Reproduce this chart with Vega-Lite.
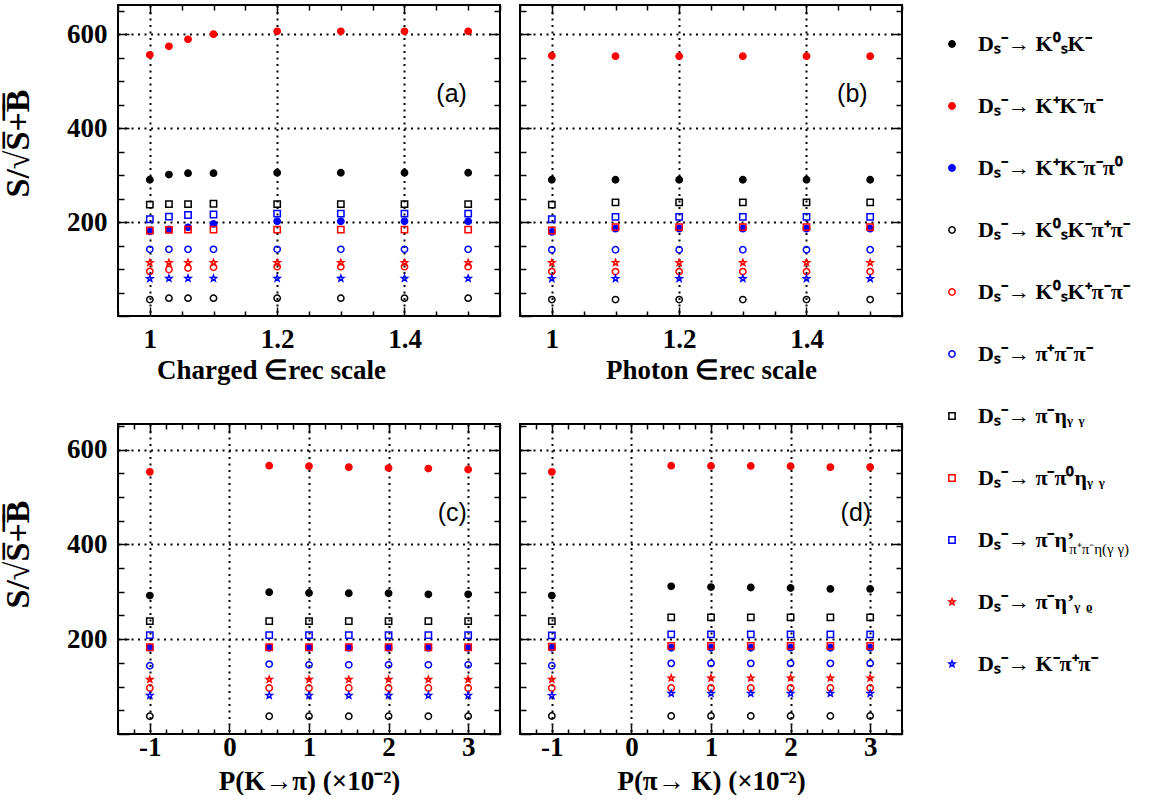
{
  "$schema": "https://vega.github.io/schema/vega-lite/v6.json",
  "padding": {"left": 0, "top": 3, "right": 0, "bottom": 0},
  "background": "white",
  "columns": 2,
  "spacing": {"row": 108, "column": 20},
  "bounds": "flush",
  "data": {"values": [
    {"p":"a","x":1,"s1":290,"s2":556,"s3":180,"s4":35,"s5":95,"s6":142,"s7":237,"s8":182,"s9":206,"s10":113.5,"s11":79.5},
    {"p":"a","x":1.03,"s1":301,"s2":574,"s3":184.5,"s4":38,"s5":99,"s6":142,"s7":238,"s8":183.5,"s9":211.5,"s10":113.5,"s11":80},
    {"p":"a","x":1.06,"s1":304,"s2":589,"s3":188.7,"s4":38,"s5":102,"s6":142,"s7":238,"s8":184,"s9":215,"s10":113.5,"s11":80},
    {"p":"a","x":1.1,"s1":304,"s2":600,"s3":196,"s4":38,"s5":103.6,"s6":142,"s7":239,"s8":184,"s9":216,"s10":113.5,"s11":80},
    {"p":"a","x":1.2,"s1":305,"s2":606,"s3":201.5,"s4":38,"s5":105,"s6":142,"s7":238,"s8":184,"s9":218,"s10":113.5,"s11":80},
    {"p":"a","x":1.3,"s1":305,"s2":606,"s3":201.5,"s4":38,"s5":105,"s6":142,"s7":238,"s8":184,"s9":218,"s10":113.5,"s11":80},
    {"p":"a","x":1.4,"s1":305,"s2":606,"s3":201.5,"s4":38,"s5":105,"s6":142,"s7":238,"s8":184,"s9":218,"s10":113.5,"s11":80},
    {"p":"a","x":1.5,"s1":305,"s2":606,"s3":201.5,"s4":38,"s5":105,"s6":142,"s7":238,"s8":184,"s9":218,"s10":113.5,"s11":80},
    {"p":"b","x":1,"s1":290,"s2":554,"s3":179,"s4":35,"s5":94.5,"s6":141,"s7":237,"s8":182,"s9":206,"s10":113.5,"s11":79.5},
    {"p":"b","x":1.1,"s1":290,"s2":553,"s3":186,"s4":35,"s5":94.5,"s6":141,"s7":242,"s8":189,"s9":211,"s10":113.5,"s11":79.5},
    {"p":"b","x":1.2,"s1":290,"s2":553,"s3":186,"s4":35,"s5":94.5,"s6":141,"s7":242,"s8":189,"s9":211,"s10":113.5,"s11":79.5},
    {"p":"b","x":1.3,"s1":290,"s2":553,"s3":186,"s4":35,"s5":94.5,"s6":141,"s7":242,"s8":189,"s9":211,"s10":113.5,"s11":79.5},
    {"p":"b","x":1.4,"s1":290,"s2":553,"s3":186,"s4":35,"s5":94.5,"s6":141,"s7":242,"s8":189,"s9":211,"s10":113.5,"s11":79.5},
    {"p":"b","x":1.5,"s1":290,"s2":553,"s3":186,"s4":35,"s5":94.5,"s6":141,"s7":242,"s8":189,"s9":211,"s10":113.5,"s11":79.5},
    {"p":"c","x":-1,"s1":292,"s2":553,"s3":182,"s4":37.5,"s5":97,"s6":144,"s7":238,"s8":183,"s9":208.5,"s10":115,"s11":81.3},
    {"p":"c","x":0.5,"s1":299,"s2":566,"s3":182,"s4":37.5,"s5":97,"s6":147.5,"s7":238,"s8":183,"s9":208.5,"s10":115,"s11":81.3},
    {"p":"c","x":1,"s1":297.5,"s2":565,"s3":182,"s4":37.5,"s5":97,"s6":146,"s7":238,"s8":183,"s9":208.5,"s10":115,"s11":81.3},
    {"p":"c","x":1.5,"s1":297,"s2":563,"s3":182,"s4":37.5,"s5":97,"s6":146,"s7":238,"s8":183,"s9":208.5,"s10":115,"s11":81.3},
    {"p":"c","x":2,"s1":297,"s2":561,"s3":182,"s4":37.5,"s5":97,"s6":146,"s7":238,"s8":183,"s9":208.5,"s10":115,"s11":81.3},
    {"p":"c","x":2.5,"s1":294.6,"s2":560,"s3":182,"s4":37.5,"s5":97,"s6":146,"s7":238,"s8":183,"s9":208.5,"s10":115,"s11":81.3},
    {"p":"c","x":3,"s1":294.6,"s2":558,"s3":182,"s4":37.5,"s5":97,"s6":146,"s7":238,"s8":183,"s9":208.5,"s10":115,"s11":81.3},
    {"p":"d","x":-1,"s1":292,"s2":553,"s3":182,"s4":38,"s5":97,"s6":144,"s7":238,"s8":184,"s9":208,"s10":115,"s11":81},
    {"p":"d","x":0.5,"s1":311.5,"s2":566,"s3":182,"s4":38,"s5":97,"s6":149,"s7":246,"s8":186,"s9":210,"s10":118,"s11":85.5},
    {"p":"d","x":1,"s1":310,"s2":565.5,"s3":182,"s4":38,"s5":97,"s6":149,"s7":246,"s8":186,"s9":210,"s10":118,"s11":85.5},
    {"p":"d","x":1.5,"s1":309,"s2":565.5,"s3":182,"s4":38,"s5":97,"s6":149,"s7":246,"s8":186,"s9":210,"s10":118,"s11":85.5},
    {"p":"d","x":2,"s1":308,"s2":565,"s3":182,"s4":38,"s5":97,"s6":149,"s7":246,"s8":186,"s9":210,"s10":118,"s11":85.5},
    {"p":"d","x":2.5,"s1":306,"s2":563,"s3":182,"s4":38,"s5":97,"s6":149,"s7":246,"s8":186,"s9":210,"s10":118,"s11":85.5},
    {"p":"d","x":3,"s1":306,"s2":563,"s3":182,"s4":38,"s5":97,"s6":149,"s7":246,"s8":186,"s9":210,"s10":118,"s11":85.5}
  ]},
  "concat": [
    {
      "width": 382, "height": 311,
      "layer": [
        {
          "transform": [{"filter": "datum.p === 'a'"}, {"fold": ["s1","s2","s3","s4","s5","s6","s7","s8","s9","s10","s11"], "as": ["series","v"]}],
          "mark": {"type": "point", "filled": true, "opacity": 1, "strokeWidth": 1.5},
          "encoding": {
            "x": {"field": "x", "type": "quantitative", "scale": {"domain": [0.95, 1.55], "nice": false, "zero": false},
              "axis": {"orient": "bottom", "values": [0.95,1,1.05,1.1,1.15,1.2,1.25,1.3,1.35,1.4,1.45,1.5,1.55], "title": "Charged  ∈rec scale", "titleX": 153, "titlePadding": 5,
                "labelExpr": "indexof([1,1.2,1.4], datum.value) >= 0 ? toString(datum.value) : ''",
                "labelFontSize": {"condition": {"test": "indexof([1,1.2,1.4], datum.value) >= 0", "value": 27}, "value": 0},
                "grid": true, "gridOpacity": {"condition": {"test": "indexof([1,1.2,1.4], datum.value) >= 0", "value": 1}, "value": 0},
                "tickSize": {"condition": {"test": "indexof([1,1.2,1.4], datum.value) >= 0", "value": -9}, "value": -5}, "labelPadding": 19}},
            "y": {"field": "v", "type": "quantitative", "scale": {"domain": [0, 662], "nice": false},
              "axis": {"orient": "left", "values": [0,50,100,150,200,250,300,350,400,450,500,550,600,650], "title": "S/√S̅+̅B̅", "titleFontSize": 34, "titlePadding": 31, "titleY": 138,
                "labelExpr": "indexof([200,400,600], datum.value) >= 0 ? toString(datum.value) : ''",
                "labelFontSize": {"condition": {"test": "indexof([200,400,600], datum.value) >= 0", "value": 27}, "value": 0},
                "grid": true, "gridOpacity": {"condition": {"test": "indexof([200,400,600], datum.value) >= 0", "value": 1}, "value": 0},
                "tickSize": {"condition": {"test": "datum.value % 200 === 0", "value": -11}, "value": -6}, "labelPadding": 22}},
            "shape": {"field": "series", "type": "nominal", "scale": {"domain": ["s1","s2","s3","s4","s5","s6","s7","s8","s9","s10","s11"], "range": ["circle","circle","circle","circle","circle","circle","square","square","square","M0,-1L0.247,-0.34L0.951,-0.309L0.4,0.13L0.588,0.809L0,0.42L-0.588,0.809L-0.4,0.13L-0.951,-0.309L-0.247,-0.34Z","M0,-1L0.247,-0.34L0.951,-0.309L0.4,0.13L0.588,0.809L0,0.42L-0.588,0.809L-0.4,0.13L-0.951,-0.309L-0.247,-0.34Z"]},
              "legend": {"title": null, "orient": "none", "legendX": 823, "legendY": 28, "padding": 0, "labelFont": "Liberation Serif", "labelFontSize": 22, "labelFontWeight": "bold", "labelColor": "black", "labelLimit": 0, "rowPadding": 40, "symbolStrokeWidth": 1.5, "labelOffset": 15,
                "labelExpr": "['Dₛ⁻→ K⁰ₛK⁻','Dₛ⁻→ K⁺K⁻π⁻','Dₛ⁻→ K⁺K⁻π⁻π⁰','Dₛ⁻→ K⁰ₛK⁻π⁺π⁻','Dₛ⁻→ K⁰ₛK⁺π⁻π⁻','Dₛ⁻→  π⁺π⁻π⁻','Dₛ⁻→  π⁻ηᵧ ᵧ','Dₛ⁻→  π⁻π⁰ηᵧ ᵧ','Dₛ⁻→  π⁻η’','Dₛ⁻→  π⁻η’ᵧ ᵨ','Dₛ⁻→ K⁻π⁺π⁻'][indexof(['s1','s2','s3','s4','s5','s6','s7','s8','s9','s10','s11'], datum.label)]"}},
            "stroke": {"field": "series", "type": "nominal", "scale": {"domain": ["s1","s2","s3","s4","s5","s6","s7","s8","s9","s10","s11"], "range": ["#000000","#ff0000","#0000ff","#000000","#ff0000","#0000ff","#000000","#ff0000","#0000ff","#ff0000","#0000ff"]},
              "legend": {"title": null, "orient": "none", "legendX": 823, "legendY": 28}},
            "fill": {"field": "series", "type": "nominal", "scale": {"domain": ["s1","s2","s3","s4","s5","s6","s7","s8","s9","s10","s11"], "range": ["#000000","#ff0000","#0000ff","transparent","transparent","transparent","transparent","transparent","transparent","transparent","transparent"]},
              "legend": {"title": null, "orient": "none", "legendX": 823, "legendY": 28}},
            "size": {"field": "series", "type": "nominal", "scale": {"domain": ["s1","s2","s3","s4","s5","s6","s7","s8","s9","s10","s11"], "range": [40,40,40,45,45,45,52,52,52,115,115]},
              "legend": {"title": null, "orient": "none", "legendX": 823, "legendY": 28}}
          }
        },
        {
          "data": {"values": [{}]},
          "mark": {"type": "text", "text": "(a)", "font": "Liberation Sans", "fontSize": 25, "align": "center", "baseline": "middle", "color": "black"},
          "encoding": {
            "x": {"datum": 1.474, "type": "quantitative", "scale": {"domain": [0.95, 1.55], "nice": false, "zero": false},
              "axis": {"orient": "top", "values": [0.95,1,1.05,1.1,1.15,1.2,1.25,1.3,1.35,1.4,1.45,1.5,1.55], "labels": false, "title": null, "grid": false,
                "tickSize": {"condition": {"test": "indexof([1,1.2,1.4], datum.value) >= 0", "value": -9}, "value": -5}}},
            "y": {"datum": 473, "type": "quantitative", "scale": {"domain": [0, 662], "nice": false},
              "axis": {"orient": "right", "values": [0,50,100,150,200,250,300,350,400,450,500,550,600,650], "labels": false, "title": null, "grid": false,
                "tickSize": {"condition": {"test": "datum.value % 200 === 0", "value": -11}, "value": -6}}}
          }
        }
      ]
    },
    {
      "width": 382, "height": 311,
      "layer": [
        {
          "transform": [{"filter": "datum.p === 'b'"}, {"fold": ["s1","s2","s3","s4","s5","s6","s7","s8","s9","s10","s11"], "as": ["series","v"]}],
          "mark": {"type": "point", "filled": true, "opacity": 1, "strokeWidth": 1.5},
          "encoding": {
            "x": {"field": "x", "type": "quantitative", "scale": {"domain": [0.95, 1.55], "nice": false, "zero": false},
              "axis": {"orient": "bottom", "values": [0.95,1,1.05,1.1,1.15,1.2,1.25,1.3,1.35,1.4,1.45,1.5,1.55], "title": "Photon  ∈rec scale", "titlePadding": 5,
                "labelExpr": "indexof([1,1.2,1.4], datum.value) >= 0 ? toString(datum.value) : ''",
                "labelFontSize": {"condition": {"test": "indexof([1,1.2,1.4], datum.value) >= 0", "value": 27}, "value": 0},
                "grid": true, "gridOpacity": {"condition": {"test": "indexof([1,1.2,1.4], datum.value) >= 0", "value": 1}, "value": 0},
                "tickSize": {"condition": {"test": "indexof([1,1.2,1.4], datum.value) >= 0", "value": -9}, "value": -5}, "labelPadding": 19}},
            "y": {"field": "v", "type": "quantitative", "scale": {"domain": [0, 662], "nice": false},
              "axis": {"orient": "left", "values": [0,50,100,150,200,250,300,350,400,450,500,550,600,650], "title": null, "labels": false,
                "grid": true, "gridOpacity": {"condition": {"test": "indexof([200,400,600], datum.value) >= 0", "value": 1}, "value": 0},
                "tickSize": {"condition": {"test": "datum.value % 200 === 0", "value": -11}, "value": -6}}},
            "shape": {"field": "series", "type": "nominal", "scale": {"domain": ["s1","s2","s3","s4","s5","s6","s7","s8","s9","s10","s11"], "range": ["circle","circle","circle","circle","circle","circle","square","square","square","M0,-1L0.247,-0.34L0.951,-0.309L0.4,0.13L0.588,0.809L0,0.42L-0.588,0.809L-0.4,0.13L-0.951,-0.309L-0.247,-0.34Z","M0,-1L0.247,-0.34L0.951,-0.309L0.4,0.13L0.588,0.809L0,0.42L-0.588,0.809L-0.4,0.13L-0.951,-0.309L-0.247,-0.34Z"]}, "legend": null},
            "stroke": {"field": "series", "type": "nominal", "scale": {"domain": ["s1","s2","s3","s4","s5","s6","s7","s8","s9","s10","s11"], "range": ["#000000","#ff0000","#0000ff","#000000","#ff0000","#0000ff","#000000","#ff0000","#0000ff","#ff0000","#0000ff"]}, "legend": null},
            "fill": {"field": "series", "type": "nominal", "scale": {"domain": ["s1","s2","s3","s4","s5","s6","s7","s8","s9","s10","s11"], "range": ["#000000","#ff0000","#0000ff","transparent","transparent","transparent","transparent","transparent","transparent","transparent","transparent"]}, "legend": null},
            "size": {"field": "series", "type": "nominal", "scale": {"domain": ["s1","s2","s3","s4","s5","s6","s7","s8","s9","s10","s11"], "range": [40,40,40,45,45,45,52,52,52,115,115]}, "legend": null}
          }
        },
        {
          "data": {"values": [{}]},
          "mark": {"type": "text", "text": "(b)", "font": "Liberation Sans", "fontSize": 25, "align": "center", "baseline": "middle", "color": "black"},
          "encoding": {
            "x": {"datum": 1.472, "type": "quantitative", "scale": {"domain": [0.95, 1.55], "nice": false, "zero": false},
              "axis": {"orient": "top", "values": [0.95,1,1.05,1.1,1.15,1.2,1.25,1.3,1.35,1.4,1.45,1.5,1.55], "labels": false, "title": null, "grid": false,
                "tickSize": {"condition": {"test": "indexof([1,1.2,1.4], datum.value) >= 0", "value": -9}, "value": -5}}},
            "y": {"datum": 473, "type": "quantitative", "scale": {"domain": [0, 662], "nice": false},
              "axis": {"orient": "right", "values": [0,50,100,150,200,250,300,350,400,450,500,550,600,650], "labels": false, "title": null, "grid": false,
                "tickSize": {"condition": {"test": "datum.value % 200 === 0", "value": -11}, "value": -6}}}
          }
        }
      ]
    },
    {
      "width": 382, "height": 310,
      "layer": [
        {
          "transform": [{"filter": "datum.p === 'c'"}, {"fold": ["s1","s2","s3","s4","s5","s6","s7","s8","s9","s10","s11"], "as": ["series","v"]}],
          "mark": {"type": "point", "filled": true, "opacity": 1, "strokeWidth": 1.5},
          "encoding": {
            "x": {"field": "x", "type": "quantitative", "scale": {"domain": [-1.4, 3.4], "nice": false, "zero": false},
              "axis": {"orient": "bottom", "values": [-1.4,-1.2,-1,-0.8,-0.6,-0.4,-0.2,0,0.2,0.4,0.6,0.8,1,1.2,1.4,1.6,1.8,2,2.2,2.4,2.6,2.8,3,3.2,3.4], "title": "P(K→π) (×10⁻²)", "titlePadding": 8,
                "labelExpr": "indexof([-1,0,1,2,3], datum.value) >= 0 ? toString(datum.value) : ''",
                "labelFontSize": {"condition": {"test": "indexof([-1,0,1,2,3], datum.value) >= 0", "value": 27}, "value": 0},
                "grid": true, "gridOpacity": {"condition": {"test": "indexof([-1,0,1,2,3], datum.value) >= 0", "value": 1}, "value": 0},
                "tickSize": {"condition": {"test": "indexof([-1,0,1,2,3], datum.value) >= 0", "value": -9}, "value": -5}, "labelPadding": 9}},
            "y": {"field": "v", "type": "quantitative", "scale": {"domain": [0, 654], "nice": false},
              "axis": {"orient": "left", "values": [0,50,100,150,200,250,300,350,400,450,500,550,600,650], "title": "S/√S̅+̅B̅", "titleFontSize": 34, "titlePadding": 31, "titleY": 130,
                "labelExpr": "indexof([200,400,600], datum.value) >= 0 ? toString(datum.value) : ''",
                "labelFontSize": {"condition": {"test": "indexof([200,400,600], datum.value) >= 0", "value": 27}, "value": 0},
                "grid": true, "gridOpacity": {"condition": {"test": "indexof([200,400,600], datum.value) >= 0", "value": 1}, "value": 0},
                "tickSize": {"condition": {"test": "datum.value % 200 === 0", "value": -11}, "value": -6}, "labelPadding": 22}},
            "shape": {"field": "series", "type": "nominal", "scale": {"domain": ["s1","s2","s3","s4","s5","s6","s7","s8","s9","s10","s11"], "range": ["circle","circle","circle","circle","circle","circle","square","square","square","M0,-1L0.247,-0.34L0.951,-0.309L0.4,0.13L0.588,0.809L0,0.42L-0.588,0.809L-0.4,0.13L-0.951,-0.309L-0.247,-0.34Z","M0,-1L0.247,-0.34L0.951,-0.309L0.4,0.13L0.588,0.809L0,0.42L-0.588,0.809L-0.4,0.13L-0.951,-0.309L-0.247,-0.34Z"]}, "legend": null},
            "stroke": {"field": "series", "type": "nominal", "scale": {"domain": ["s1","s2","s3","s4","s5","s6","s7","s8","s9","s10","s11"], "range": ["#000000","#ff0000","#0000ff","#000000","#ff0000","#0000ff","#000000","#ff0000","#0000ff","#ff0000","#0000ff"]}, "legend": null},
            "fill": {"field": "series", "type": "nominal", "scale": {"domain": ["s1","s2","s3","s4","s5","s6","s7","s8","s9","s10","s11"], "range": ["#000000","#ff0000","#0000ff","transparent","transparent","transparent","transparent","transparent","transparent","transparent","transparent"]}, "legend": null},
            "size": {"field": "series", "type": "nominal", "scale": {"domain": ["s1","s2","s3","s4","s5","s6","s7","s8","s9","s10","s11"], "range": [40,40,40,45,45,45,52,52,52,115,115]}, "legend": null}
          }
        },
        {
          "data": {"values": [{}]},
          "mark": {"type": "text", "text": "(c)", "font": "Liberation Sans", "fontSize": 25, "align": "center", "baseline": "middle", "color": "black"},
          "encoding": {
            "x": {"datum": 2.8, "type": "quantitative", "scale": {"domain": [-1.4, 3.4], "nice": false, "zero": false},
              "axis": {"orient": "top", "values": [-1.4,-1.2,-1,-0.8,-0.6,-0.4,-0.2,0,0.2,0.4,0.6,0.8,1,1.2,1.4,1.6,1.8,2,2.2,2.4,2.6,2.8,3,3.2,3.4], "labels": false, "title": null, "grid": false,
                "tickSize": {"condition": {"test": "indexof([-1,0,1,2,3], datum.value) >= 0", "value": -9}, "value": -5}}},
            "y": {"datum": 466, "type": "quantitative", "scale": {"domain": [0, 654], "nice": false},
              "axis": {"orient": "right", "values": [0,50,100,150,200,250,300,350,400,450,500,550,600,650], "labels": false, "title": null, "grid": false,
                "tickSize": {"condition": {"test": "datum.value % 200 === 0", "value": -11}, "value": -6}}}
          }
        }
      ]
    },
    {
      "width": 382, "height": 310,
      "layer": [
        {
          "transform": [{"filter": "datum.p === 'd'"}, {"fold": ["s1","s2","s3","s4","s5","s6","s7","s8","s9","s10","s11"], "as": ["series","v"]}],
          "mark": {"type": "point", "filled": true, "opacity": 1, "strokeWidth": 1.5},
          "encoding": {
            "x": {"field": "x", "type": "quantitative", "scale": {"domain": [-1.4, 3.4], "nice": false, "zero": false},
              "axis": {"orient": "bottom", "values": [-1.4,-1.2,-1,-0.8,-0.6,-0.4,-0.2,0,0.2,0.4,0.6,0.8,1,1.2,1.4,1.6,1.8,2,2.2,2.4,2.6,2.8,3,3.2,3.4], "title": "P(π→ K) (×10⁻²)", "titlePadding": 8,
                "labelExpr": "indexof([-1,0,1,2,3], datum.value) >= 0 ? toString(datum.value) : ''",
                "labelFontSize": {"condition": {"test": "indexof([-1,0,1,2,3], datum.value) >= 0", "value": 27}, "value": 0},
                "grid": true, "gridOpacity": {"condition": {"test": "indexof([-1,0,1,2,3], datum.value) >= 0", "value": 1}, "value": 0},
                "tickSize": {"condition": {"test": "indexof([-1,0,1,2,3], datum.value) >= 0", "value": -9}, "value": -5}, "labelPadding": 9}},
            "y": {"field": "v", "type": "quantitative", "scale": {"domain": [0, 654], "nice": false},
              "axis": {"orient": "left", "values": [0,50,100,150,200,250,300,350,400,450,500,550,600,650], "title": null, "labels": false,
                "grid": true, "gridOpacity": {"condition": {"test": "indexof([200,400,600], datum.value) >= 0", "value": 1}, "value": 0},
                "tickSize": {"condition": {"test": "datum.value % 200 === 0", "value": -11}, "value": -6}}},
            "shape": {"field": "series", "type": "nominal", "scale": {"domain": ["s1","s2","s3","s4","s5","s6","s7","s8","s9","s10","s11"], "range": ["circle","circle","circle","circle","circle","circle","square","square","square","M0,-1L0.247,-0.34L0.951,-0.309L0.4,0.13L0.588,0.809L0,0.42L-0.588,0.809L-0.4,0.13L-0.951,-0.309L-0.247,-0.34Z","M0,-1L0.247,-0.34L0.951,-0.309L0.4,0.13L0.588,0.809L0,0.42L-0.588,0.809L-0.4,0.13L-0.951,-0.309L-0.247,-0.34Z"]}, "legend": null},
            "stroke": {"field": "series", "type": "nominal", "scale": {"domain": ["s1","s2","s3","s4","s5","s6","s7","s8","s9","s10","s11"], "range": ["#000000","#ff0000","#0000ff","#000000","#ff0000","#0000ff","#000000","#ff0000","#0000ff","#ff0000","#0000ff"]}, "legend": null},
            "fill": {"field": "series", "type": "nominal", "scale": {"domain": ["s1","s2","s3","s4","s5","s6","s7","s8","s9","s10","s11"], "range": ["#000000","#ff0000","#0000ff","transparent","transparent","transparent","transparent","transparent","transparent","transparent","transparent"]}, "legend": null},
            "size": {"field": "series", "type": "nominal", "scale": {"domain": ["s1","s2","s3","s4","s5","s6","s7","s8","s9","s10","s11"], "range": [40,40,40,45,45,45,52,52,52,115,115]}, "legend": null}
          }
        },
        {
          "data": {"values": [{}]},
          "mark": {"type": "text", "text": "(d)", "font": "Liberation Sans", "fontSize": 25, "align": "center", "baseline": "middle", "color": "black"},
          "encoding": {
            "x": {"datum": 2.82, "type": "quantitative", "scale": {"domain": [-1.4, 3.4], "nice": false, "zero": false},
              "axis": {"orient": "top", "values": [-1.4,-1.2,-1,-0.8,-0.6,-0.4,-0.2,0,0.2,0.4,0.6,0.8,1,1.2,1.4,1.6,1.8,2,2.2,2.4,2.6,2.8,3,3.2,3.4], "labels": false, "title": null, "grid": false,
                "tickSize": {"condition": {"test": "indexof([-1,0,1,2,3], datum.value) >= 0", "value": -9}, "value": -5}}},
            "y": {"datum": 466, "type": "quantitative", "scale": {"domain": [0, 654], "nice": false},
              "axis": {"orient": "right", "values": [0,50,100,150,200,250,300,350,400,450,500,550,600,650], "labels": false, "title": null, "grid": false,
                "tickSize": {"condition": {"test": "datum.value % 200 === 0", "value": -11}, "value": -6}}}
          }
        },
        {
          "data": {"values": [{}]},
          "mark": {"type": "text", "text": "π⁺π⁻η(γ γ)", "font": "Liberation Serif", "fontSize": 15, "align": "left", "baseline": "middle", "color": "black"},
          "encoding": {
            "x": {"datum": 5.5, "type": "quantitative", "scale": {"domain": [-1.4, 3.4], "nice": false, "zero": false}, "axis": null},
            "y": {"datum": 390, "type": "quantitative", "scale": {"domain": [0, 654], "nice": false}, "axis": null}
          }
        }
      ]
    }
  ],
  "config": {
    "font": "Liberation Serif",
    "view": {"stroke": "black", "strokeWidth": 2},
    "axis": {"domain": false, "labelFont": "Liberation Serif", "labelFontSize": 27, "labelFontWeight": "bold", "labelColor": "black",
      "titleFont": "Liberation Serif", "titleFontSize": 27, "titleFontWeight": "bold", "titleColor": "black",
      "tickColor": "black", "tickWidth": 1.5, "gridColor": "black", "gridDash": [2, 4.5], "gridWidth": 2,
      "labelFlush": false, "labelOverlap": false, "labelBound": false}
  }
}
